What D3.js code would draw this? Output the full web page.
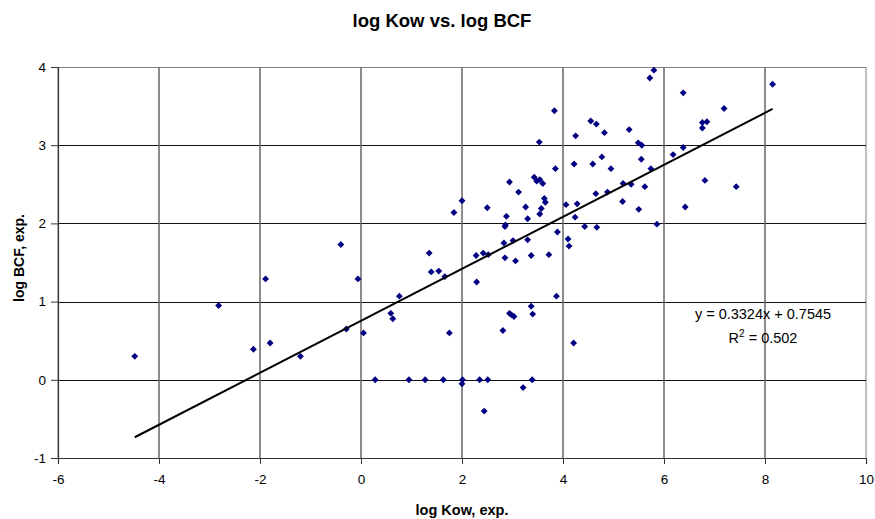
<!DOCTYPE html>
<html>
<head>
<meta charset="utf-8">
<script src="https://cdn.jsdelivr.net/npm/d3@7"></script>
<style>
  html, body { margin: 0; padding: 0; background: #fff; }
  svg { display: block; font-family: Arial, "Liberation Sans", sans-serif; }
</style>
</head>
<body>
<svg id="chart" width="875" height="519"></svg>
<script>
// Experimental log Kow values (x) and matching log BCF values (y)
const logKow = [
  -4.48, -2.82, -1.89, -2.13, -1.80, -1.20, -0.40, -0.06, -0.29, 0.05,
  0.28, 0.76, 0.59, 0.63, 0.95, 1.27, 1.35, 1.39, 1.54, 1.66,
  1.63, 1.75, 1.84, 2.00, 2.01, 2.00, 2.28, 2.29, 2.35, 2.42,
  2.44, 2.50, 2.51, 2.52, 2.81, 2.83, 2.85, 2.85, 2.86, 2.88,
  2.94, 2.94, 2.98, 3.01, 3.03, 3.06, 3.12, 3.21, 3.26, 3.30,
  3.30, 3.37, 3.37, 3.39, 3.40, 3.43, 3.48, 3.53, 3.54, 3.54,
  3.57, 3.60, 3.63, 3.65, 3.72, 3.83, 3.85, 3.87, 3.89, 4.06,
  4.10, 4.12, 4.21, 4.22, 4.24, 4.25, 4.28, 4.43, 4.55, 4.59,
  4.65, 4.66, 4.67, 4.77, 4.82, 4.88, 4.95, 5.18, 5.19, 5.31,
  5.35, 5.49, 5.50, 5.55, 5.56, 5.62, 5.72, 5.74, 5.80, 5.86,
  6.18, 6.38, 6.38, 6.42, 6.76, 6.76, 6.81, 6.85, 7.19, 7.43,
  8.15
];
const logBCF = [
  0.30, 0.95, 1.29, 0.39, 0.47, 0.30, 1.73, 1.29, 0.65, 0.60,
  0.00, 1.07, 0.85, 0.78, 0.00, 0.00, 1.62, 1.38, 1.39, 1.32,
  0.00, 0.60, 2.14, 2.29, 0.00, -0.05, 1.59, 1.25, 0.00, 1.62,
  -0.40, 2.20, 0.00, 1.60, 0.63, 1.75, 1.56, 1.96, 1.98, 2.09,
  2.53, 0.85, 0.83, 1.78, 0.81, 1.52, 2.40, -0.10, 2.21, 2.06,
  1.79, 1.59, 0.94, 0.00, 0.84, 2.59, 2.54, 3.04, 2.56, 2.12,
  2.19, 2.51, 2.32, 2.27, 1.60, 3.44, 2.70, 1.07, 1.89, 2.24,
  1.80, 1.71, 0.47, 2.76, 2.08, 3.12, 2.25, 1.96, 3.31, 2.76,
  2.38, 3.27, 1.95, 2.85, 3.16, 2.40, 2.70, 2.28, 2.51, 3.20,
  2.50, 3.03, 2.18, 2.82, 3.00, 2.47, 3.86, 2.70, 3.96, 1.99,
  2.88, 3.67, 2.97, 2.21, 3.29, 3.22, 2.55, 3.30, 3.47, 2.47,
  3.78
];

// Axis ticks
const xTicks = [-6, -4, -2, 0, 2, 4, 6, 8, 10];
const yTicks = [-1, 0, 1, 2, 3, 4];

// Linear fit y = slope*x + intercept
const fitSlope = 0.3324;
const fitIntercept = 0.7545;
const fitR2 = 0.502;

const svg = d3.select("#chart");
const plotLeft = 58, plotRight = 866, plotTop = 67, plotBottom = 458;

const x = d3.scaleLinear().domain([-6, 10]).range([plotLeft, plotRight]);
const y = d3.scaleLinear().domain([-1, 4]).range([plotBottom, plotTop]);

// Plot frame
svg.append("rect")
  .attr("x", plotLeft).attr("y", plotTop + 0.5)
  .attr("width", plotRight - plotLeft).attr("height", plotBottom - plotTop)
  .attr("fill", "#fff").attr("stroke", "#808080").attr("stroke-width", 1);

// Gridlines
const grid = svg.append("g");
grid.selectAll("line.h").data(yTicks.filter(d => d > -1 && d < 4)).join("line")
  .attr("class", "h")
  .attr("x1", plotLeft).attr("x2", plotRight)
  .attr("y1", d => Math.round(y(d)) + 0.5).attr("y2", d => Math.round(y(d)) + 0.5)
  .attr("stroke", "#111").attr("stroke-width", 1);
grid.selectAll("line.v").data(xTicks.filter(d => d > -6 && d < 10)).join("line")
  .attr("class", "v")
  .attr("y1", plotTop).attr("y2", plotBottom)
  .attr("x1", d => Math.round(x(d))).attr("x2", d => Math.round(x(d)))
  .attr("stroke", "#666").attr("stroke-width", 1.5);

// Axes (plain hyphen minus, integer labels)
const fmt = d => String(d);
const xAxis = d3.axisBottom(x).tickValues(xTicks).tickFormat(fmt).tickSize(6).tickPadding(10);
const yAxis = d3.axisLeft(y).tickValues(yTicks).tickFormat(fmt).tickSize(7).tickPadding(5);

const gx = svg.append("g").attr("transform", `translate(0,${plotBottom})`).call(xAxis);
const gy = svg.append("g").attr("transform", `translate(${plotLeft},0)`).call(yAxis);
[gx, gy].forEach(g => {
  g.select(".domain").attr("stroke", "#333").attr("stroke-width", 1.2);
  g.selectAll(".tick line").attr("stroke", "#333");
  g.selectAll(".tick text")
    .attr("font-family", "Arial, 'Liberation Sans', sans-serif")
    .attr("font-size", 13.5).attr("fill", "#000");
});

// Data points as navy diamonds
const pts = logKow.map((k, i) => ({ k, b: logBCF[i] }));
const diamond = d3.symbol().type(d3.symbolDiamond2).size(30);
svg.append("g").selectAll("path").data(pts).join("path")
  .attr("d", diamond)
  .attr("transform", d => `translate(${x(d.k)},${y(d.b)})`)
  .attr("fill", "#000080");

// Trendline over the range of the data
const xMin = d3.min(logKow), xMax = d3.max(logKow);
svg.append("line")
  .attr("x1", x(xMin)).attr("y1", y(fitSlope * xMin + fitIntercept))
  .attr("x2", x(xMax)).attr("y2", y(fitSlope * xMax + fitIntercept))
  .attr("stroke", "#000").attr("stroke-width", 2);

// Fit equation
const eq = svg.append("g").attr("font-size", 14.5).attr("fill", "#000");
eq.append("text").attr("x", 763).attr("y", 319).attr("text-anchor", "middle")
  .text(`y = ${fitSlope}x + ${fitIntercept}`);
const r2 = eq.append("text").attr("x", 763).attr("y", 343).attr("text-anchor", "middle");
r2.append("tspan").text("R");
r2.append("tspan").attr("dy", -6).attr("font-size", 10).text("2");
r2.append("tspan").attr("dy", 6).text(` = ${fitR2}`);

// Titles
svg.append("text").attr("x", 442).attr("y", 27).attr("text-anchor", "middle")
  .attr("font-size", 18.5).attr("font-weight", "bold").text("log Kow vs. log BCF");
svg.append("text").attr("x", 462).attr("y", 515).attr("text-anchor", "middle")
  .attr("font-size", 14.5).attr("font-weight", "bold").text("log Kow, exp.");
svg.append("text").attr("transform", "translate(24,258) rotate(-90)")
  .attr("text-anchor", "middle")
  .attr("font-size", 14).attr("font-weight", "bold").text("log BCF, exp.");
</script>
</body>
</html>
